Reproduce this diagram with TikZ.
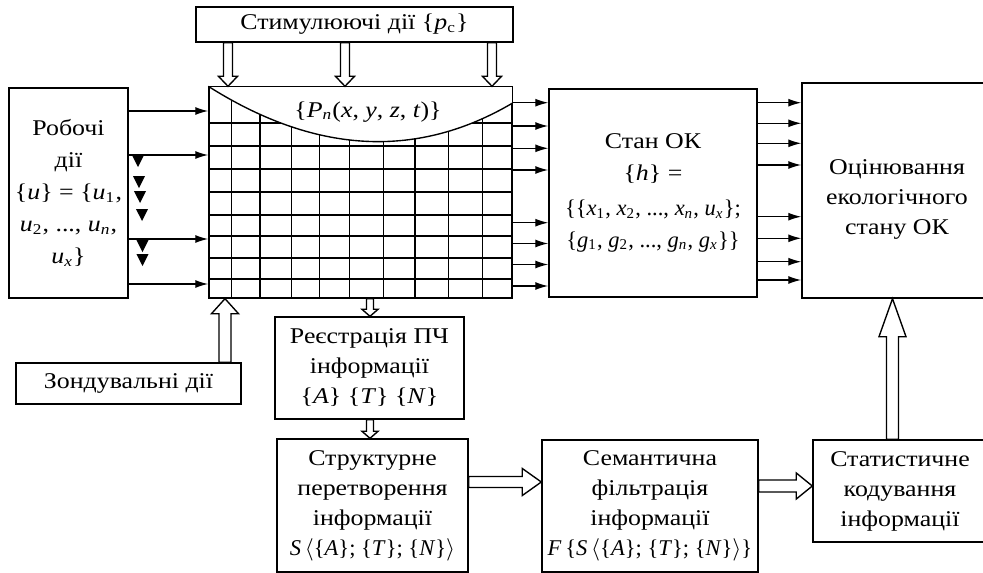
\documentclass[tikz,border=0pt]{standalone}
\usepackage{fontspec}
\setmainfont{Liberation Serif}[FakeStretch=1.15]
\newfontfamily\frm{Liberation Serif}
\usetikzlibrary{arrows.meta,calc}

\newcommand{\mi}[1]{\textit{#1}}
\newcommand{\sbs}[1]{\textsubscript{#1}}

\tikzset{
    box/.style={draw, align=center, inner sep=0pt, font=\fontsize{9}{12}\selectfont},
    sized/.style 2 args={minimum width=#1*0.4pt, minimum height=#2*0.4pt},
    hollow/.style={draw, fill=white}
}

\begin{document}
\begin{tikzpicture}[>={Latex[length=5.2pt,width=3.2pt]}, x=0.4pt, y=-0.4pt, line width=0.55pt]
			\newcommand{\HollowArrow}[5]{
				\coordinate (hb) at ($#2!#5!#1$);
				\draw[hollow] ($#1!#3!90:#2$) -- ($(hb)!#3!90:#2$) -- ($(hb)!#4!90:#2$) -- #2 -- ($(hb)!#4!-90:#2$) -- ($(hb)!#3!-90:#2$) -- ($#1!#3!-90:#2$) -- cycle;
			}

			\useasboundingbox (0,0) rectangle (983,573);

			\node[box, sized={317}{35}] (stim) at (354.5,24.5) {Стимулюючі дії \{\mi{p}\sbs{c}\}};
			\node[box, sized={119}{210}, font=\fontsize{9}{12.8}\selectfont] (rob) at (68.5,193) {Робочі\\дії\\\{\mi{u}\} = \{\mi{u}\sbs{1},\\\mi{u}\sbs{2}, ..., \mi{u}\sbs{\mi{n}},\\\mi{u}\sbs{\mi{x}}\}};
			\node[draw, sized={303}{211}] (grid) at (360.5,192.5) {};
			\node[box, sized={208}{208}, font=\fontsize{9}{12.6}\selectfont] (stan) at (653,193) {Стан ОК\\\{\mi{h}\} =\\[1.5pt]{\frm\{\{\mi{x}\sbs{1}, \mi{x}\sbs{2}, ..., \mi{x}\sbs{\mi{n}}, \mi{u}\sbs{\mi{x}}\};}\\{\frm\{\mi{g}\sbs{1}, \mi{g}\sbs{2}, ..., \mi{g}\sbs{\mi{n}}, \mi{g}\sbs{\mi{x}}\}\}}};
			\node[box, sized={190}{215}] (ocin) at (897,190.5) {\rule{0pt}{13.5pt}Оцінювання\\екологічного\\стану ОК};
			\node[box, sized={225}{41}] (zond) at (128.5,383.5) {Зондувальні дії};
			\node[box, sized={189}{102}] (reg) at (369.5,368) {Реєстрація ПЧ\\інформації\\\{\mi{A}\} \{\mi{T}\} \{\mi{N}\}};
			\node[box, sized={191}{133}] (strukt) at (372.5,505.5) {Структурне\\перетворення\\інформації\\{\frm\mi{S}\,$\langle$\{\mi{A}\}; \{\mi{T}\}; \{\mi{N}\}$\rangle$}};
			\node[box, sized={216}{132}] (sem) at (650,506) {Семантична\\фільтрація\\інформації\\{\frm\mi{F}\,\{\mi{S}\,$\langle$\{\mi{A}\}; \{\mi{T}\}; \{\mi{N}\}$\rangle$\}}};
			\node[box, sized={174}{102}] (stat) at (900,491) {Статистичне\\кодування\\інформації};

			% grid of the object
			\foreach \x in {231.7,260,291.7,319.3,349.3,383.3,415,448.3,482.3}
				\draw (grid.north -| \x,0) -- (grid.south -| \x,0);
			\foreach \y in {123,146,169,192,215,236,258,279}
				\draw (grid.west |- 0,\y) -- (grid.east |- 0,\y);
			\fill[white] (grid.north west) .. controls (320,157) and (421,157) .. (grid.east |- 0,103) -- (grid.north east) -- cycle;
			\draw (grid.north west) .. controls (320,157) and (421,157) .. (grid.east |- 0,103);
			\draw (grid.north west) rectangle (grid.south east);
			\node (pfield) at (368,112) {\fontsize{9}{12}\selectfont\{\mi{P}\sbs{\mi{n}}(\mi{x}, \mi{y}, \mi{z}, \mi{t})\}};

			\foreach \y in {111,155,239,284}
				\draw[->] (rob.east |- 0,\y) -- (grid.west |- 0,\y);
			\foreach \x/\y in {138/155,139/176,140/191,142/209,142.5/240,142.5/254}
				\fill (\x-6,\y) -- (\x+6,\y) -- (\x,\y+12) -- cycle;

			\foreach \y in {102.7,126,148.3,170,222.7,243.5,264.5,286}
				\draw[->] (grid.east |- 0,\y) -- (stan.west |- 0,\y);
			\foreach \y in {102.7,123.3,143.3,165,216.7,238.3,261.7,280}
				\draw[->] (stan.east |- 0,\y) -- (ocin.west |- 0,\y);

			\foreach \x in {228,345,492}
				{\HollowArrow{(stim.south -| \x,0)}{(grid.north -| \x,0)}{1.8pt}{3.8pt}{4pt}}
			\HollowArrow{(zond.north -| 225,0)}{(grid.south -| 225,0)}{2.4pt}{5.4pt}{6pt}
			\HollowArrow{(grid.south -| 370,0)}{(reg.north -| 370,0)}{1.4pt}{3.2pt}{2.8pt}
			\HollowArrow{(reg.south -| 370,0)}{(strukt.north -| 370,0)}{1.4pt}{3.2pt}{2.8pt}
			\HollowArrow{(strukt.east |- 0,482)}{(sem.west |- 0,482)}{2.2pt}{5.4pt}{7.6pt}
			\HollowArrow{(sem.east |- 0,486)}{(stat.west |- 0,486)}{2.4pt}{5.2pt}{6.4pt}
			\HollowArrow{(stat.north -| 892.5,0)}{(ocin.south -| 892.5,0)}{2.4pt}{5.4pt}{15.2pt}
\end{tikzpicture}
\end{document}
